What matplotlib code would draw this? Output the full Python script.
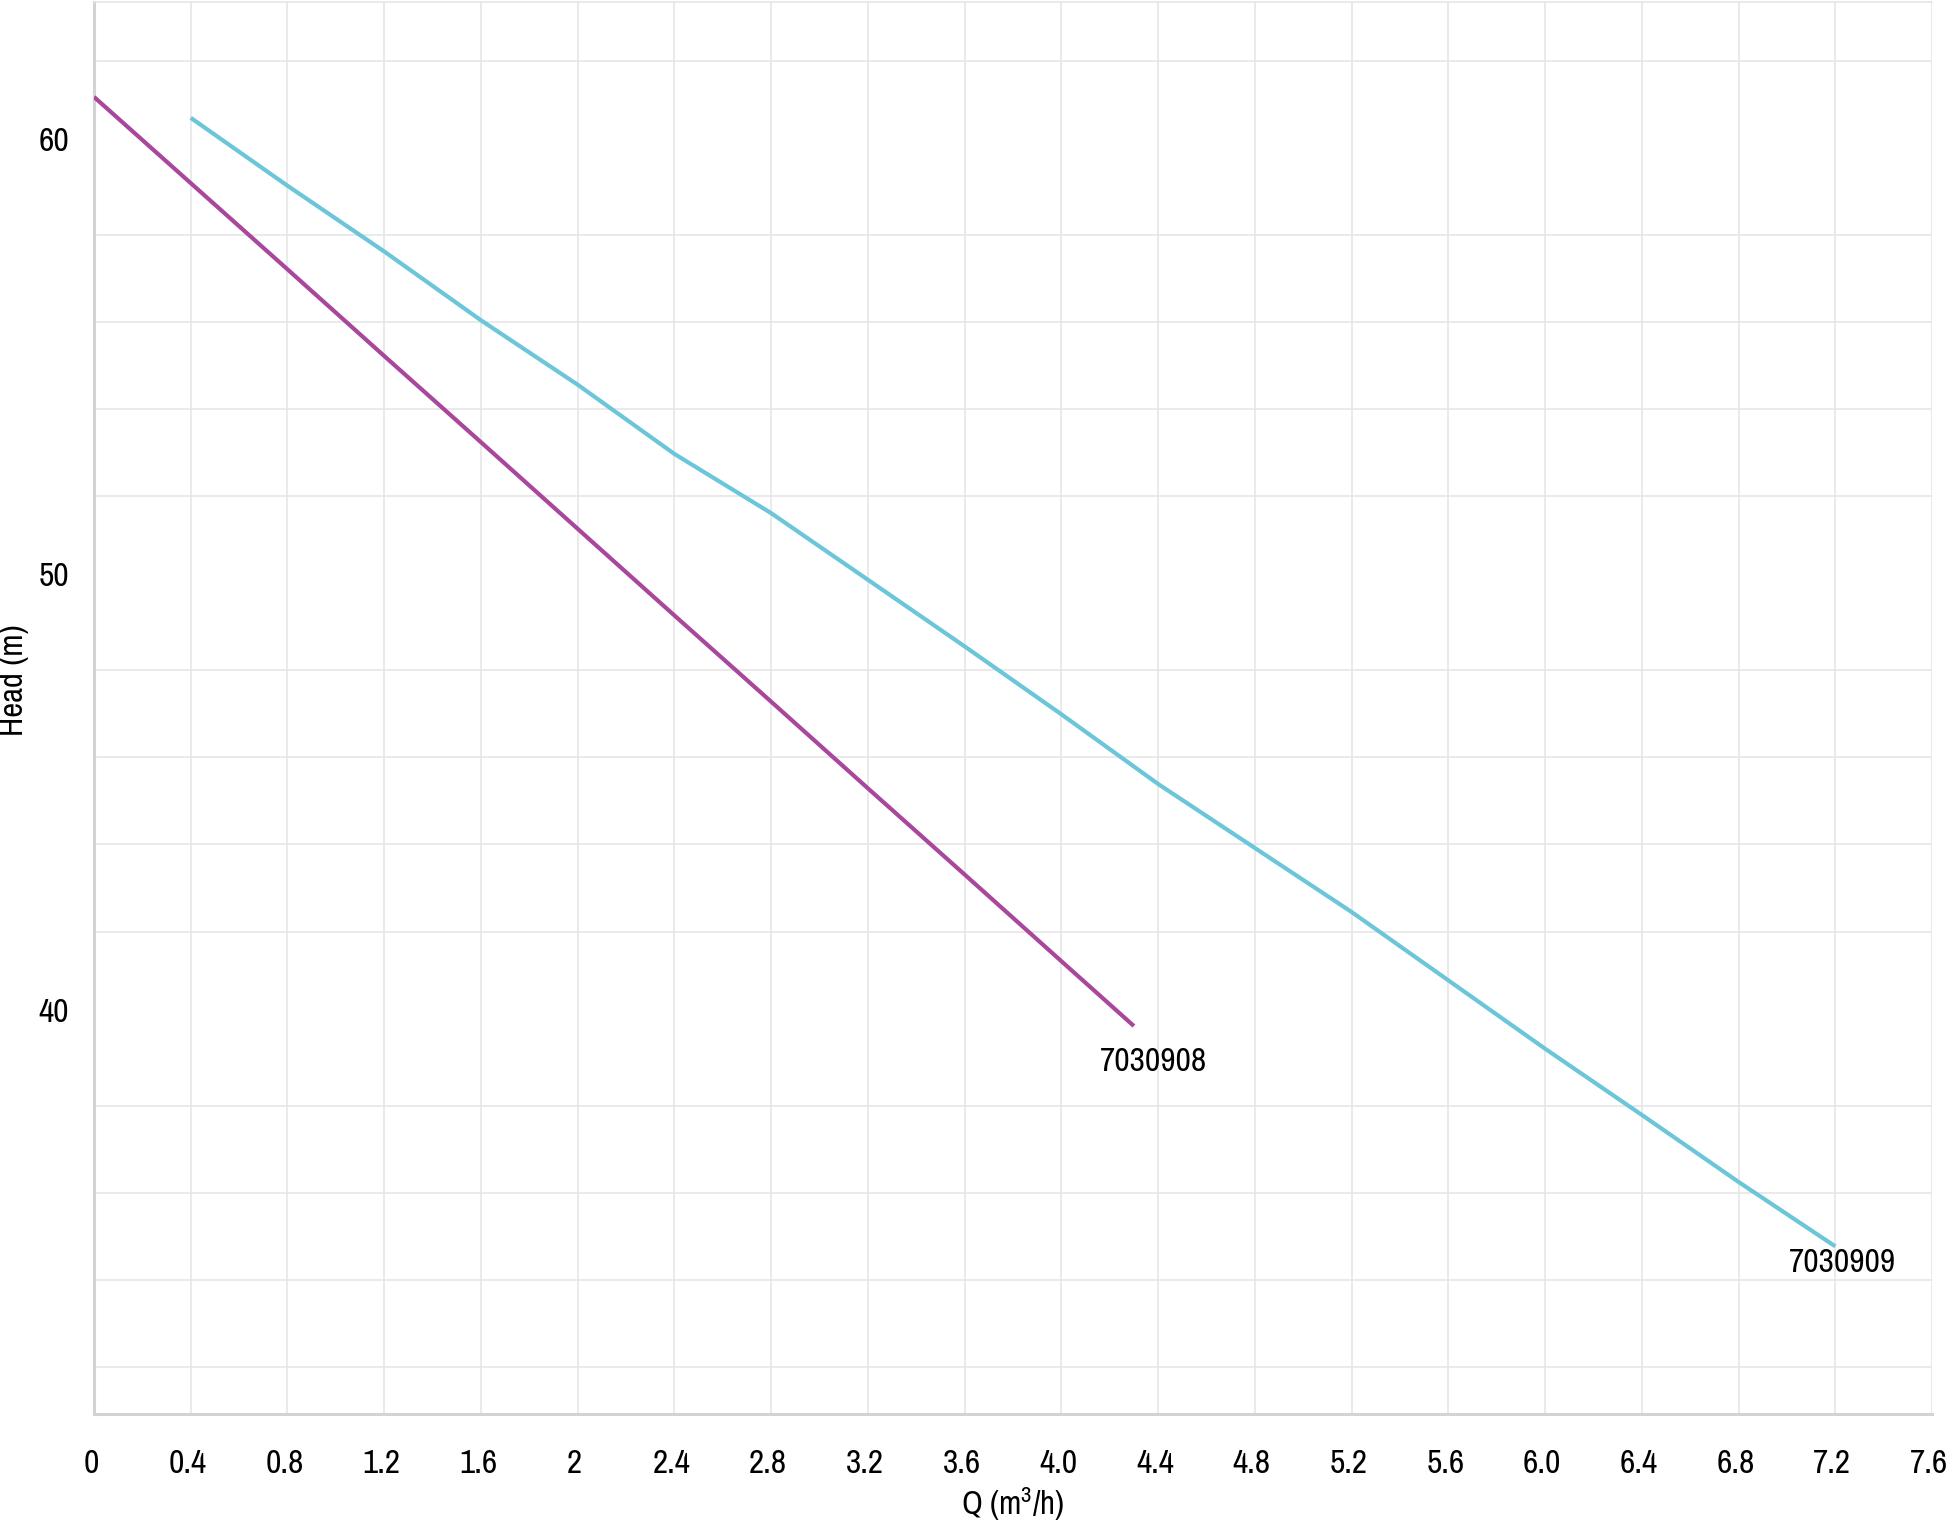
import matplotlib
matplotlib.use("Agg")
import matplotlib.pyplot as plt
from matplotlib.ticker import MultipleLocator, FixedLocator
from matplotlib import font_manager
from matplotlib.transforms import ScaledTranslation

# ---- data ----
q_908 = [0.0, 0.4, 0.8, 1.2, 1.6, 2.0, 2.4, 2.8, 3.2, 3.6, 4.0, 4.3]
h_908 = [61.17, 59.19, 57.21, 55.22, 53.24, 51.25, 49.26, 47.28, 45.29, 43.31, 41.32, 39.83]

q_909 = [0.4, 0.8, 1.2, 1.6, 2.0, 2.4, 2.8, 3.2, 3.6, 4.0, 4.4, 4.8, 5.2, 5.6, 6.0, 6.4, 6.8, 7.2]
h_909 = [60.69, 59.13, 57.62, 56.04, 54.56, 52.97, 51.61, 50.08, 48.55, 46.99, 45.39,
         43.92, 42.45, 40.88, 39.31, 37.79, 36.25, 34.77]

series_names = ["7030908", "7030909"]
series_colors = ["#A8479C", "#6CC6D9"]

x_ticks = [0, 0.4, 0.8, 1.2, 1.6, 2.0, 2.4, 2.8, 3.2, 3.6, 4.0, 4.4, 4.8, 5.2, 5.6, 6.0, 6.4, 6.8, 7.2, 7.6]
x_tick_labels = ["0", "0.4", "0.8", "1.2", "1.6", "2", "2.4", "2.8", "3.2", "3.6", "4.0", "4.4",
                 "4.8", "5.2", "5.6", "6.0", "6.4", "6.8", "7.2", "7.6"]
y_ticks = [40, 50, 60]
y_tick_labels = ["40", "50", "60"]

# ---- font ----
installed = sorted({f.name for f in font_manager.fontManager.ttflist})
narrow = [n for n in installed if ('Narrow' in n or 'Condensed' in n)]
fam = narrow[:1] + [f for f in ["Liberation Sans", "DejaVu Sans"] if f in installed]
plt.rcParams['font.family'] = fam
plt.rcParams['mathtext.default'] = 'regular'
tick_fs = 24 if narrow else 21
lab_fs = 23.5 if narrow else 19

fig = plt.figure(figsize=(19.46, 15.26), dpi=100)
ax = fig.add_axes([0.0483, 0.0734, 0.9445, 0.9253])

ax.plot(q_908, h_908, color=series_colors[0], lw=3.0, solid_capstyle='butt', zorder=3)
ax.plot(q_909, h_909, color=series_colors[1], lw=3.0, solid_capstyle='butt', zorder=3)

ax.annotate(series_names[0], xy=(q_908[-1], h_908[-1]), xytext=(14, -26), textcoords='offset points',
            ha='center', va='center', fontsize=tick_fs, color='black')
ax.annotate(series_names[1], xy=(q_909[-1], h_909[-1]), xytext=(5, -12), textcoords='offset points',
            ha='center', va='center', fontsize=tick_fs, color='black')

ax.set_xlim(0, 7.6)
ax.set_ylim(30.92, 63.35)

ax.xaxis.set_major_locator(FixedLocator(x_ticks))
ax.set_xticklabels(x_tick_labels)
ax.yaxis.set_major_locator(FixedLocator(y_ticks))
ax.set_yticklabels(y_tick_labels)
ax.yaxis.set_minor_locator(MultipleLocator(2))

ax.tick_params(axis='both', which='both', length=0, labelsize=tick_fs)
ax.tick_params(axis='x', pad=25)
ax.tick_params(axis='y', pad=18)
shift = ScaledTranslation(0, 6 / 100, fig.dpi_scale_trans)
for lbl in ax.get_yticklabels():
    lbl.set_verticalalignment('center')
    lbl.set_transform(lbl.get_transform() + shift)
shiftx = ScaledTranslation(-3 / 100, 0, fig.dpi_scale_trans)
for lbl in ax.get_xticklabels():
    lbl.set_transform(lbl.get_transform() + shiftx)

ax.grid(True, which='major', axis='x', color='#e4e4e6', lw=1.1)
ax.grid(True, which='minor', axis='y', color='#e4e4e6', lw=1.1)
ax.grid(False, which='major', axis='y')
ax.set_axisbelow(True)

for s in ['left', 'bottom']:
    ax.spines[s].set_color('#d3d3d3')
    ax.spines[s].set_linewidth(2.2)
ax.spines['top'].set_color('#e4e4e6')
ax.spines['top'].set_linewidth(1.1)
ax.spines['right'].set_visible(False)

ax.set_xlabel("Q (m$^3$/h)", fontsize=lab_fs, labelpad=4)
ax.set_ylabel("Head (m)", fontsize=lab_fs)
ax.yaxis.set_label_coords(-0.0355, 0.52)

fig.savefig("out.png", dpi=100, facecolor='white')
